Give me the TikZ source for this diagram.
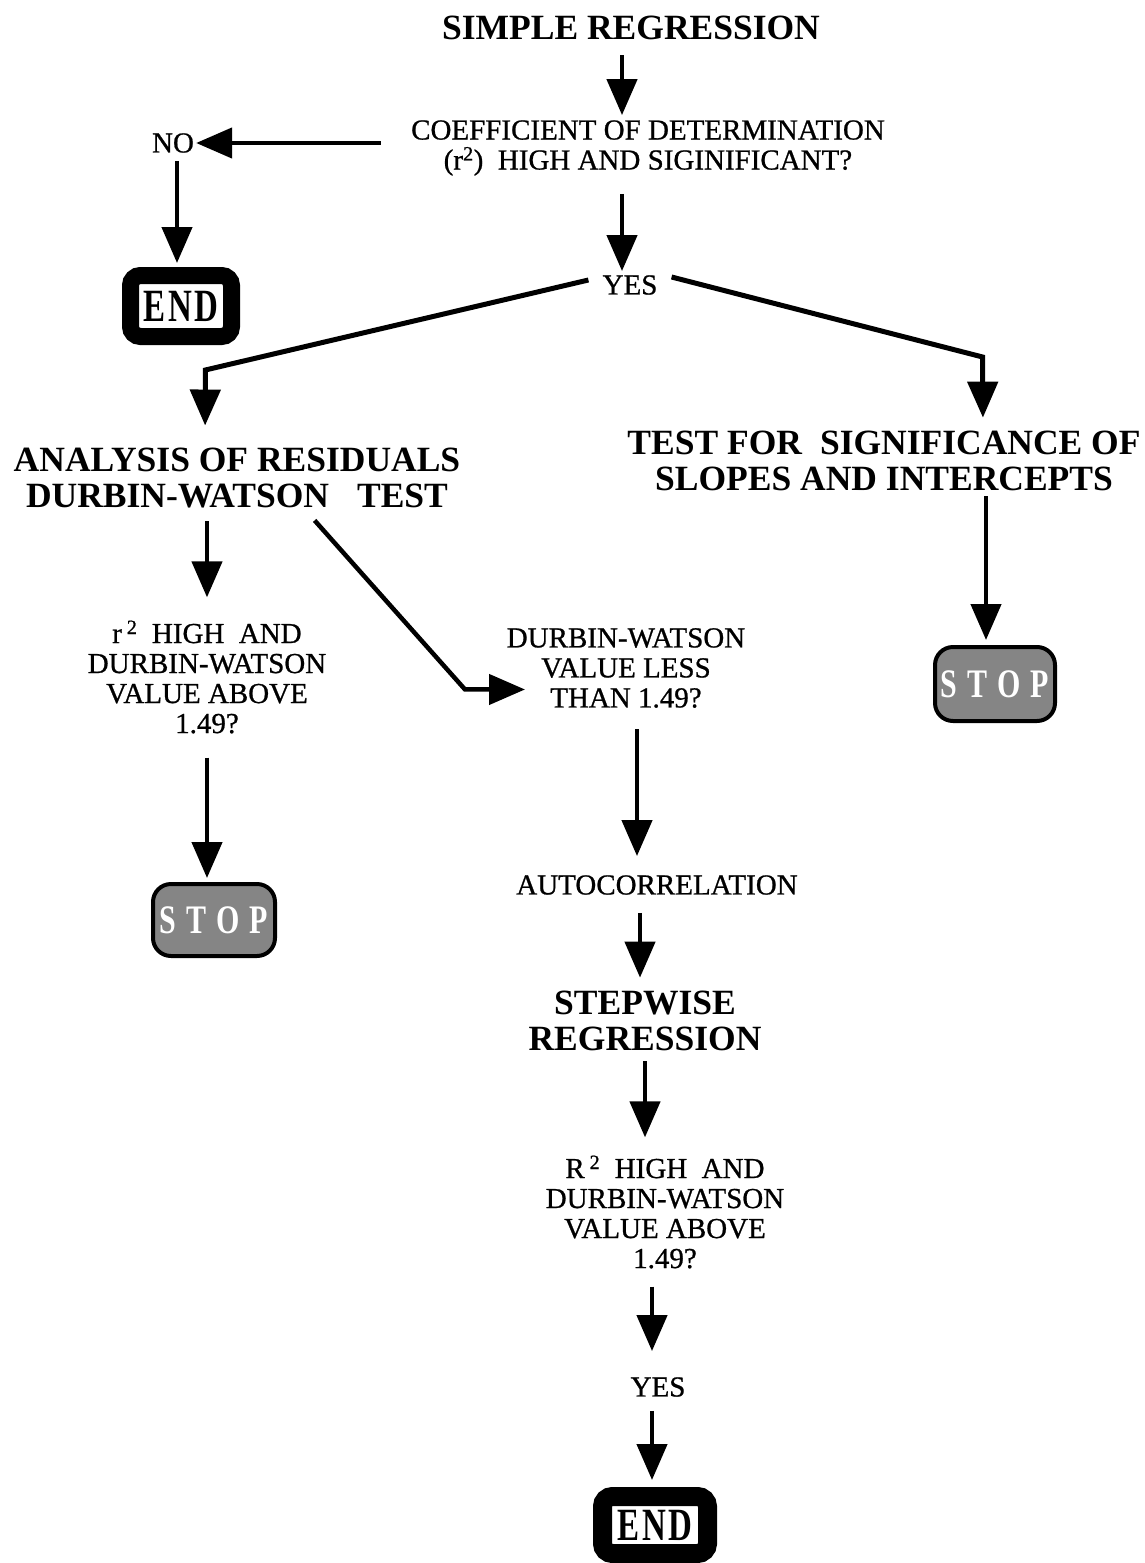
\documentclass[tikz,border=0pt]{standalone}
\usepackage{fontspec}
\setmainfont{Liberation Serif}
\newfontfamily\heavyserif[FakeBold=0.8]{Liberation Serif}
\usepackage{graphicx}
\usetikzlibrary{arrows.meta}
\tikzset{
  bt/.style={font=\fontsize{35.5}{36.5}\selectfont\bfseries, align=center, inner sep=0pt},
  nt/.style={font=\heavyserif\fontsize{29}{30}\selectfont, align=center, inner sep=0pt},
  arr/.style={line width=4.5pt, -{Triangle[length=36pt,width=30pt]}},
  endbox/.style={draw=black, fill=white, line width=17pt, rounded corners=10pt, inner sep=0pt,
    font=\fontsize{33}{33}\selectfont\bfseries},
  stopbox/.style={draw=black, fill=black!48, line width=4pt, rounded corners=18pt, inner sep=0pt,
    minimum width=120pt, minimum height=74pt, text=white, font=\fontsize{30}{30}\selectfont\bfseries}
}
\newcommand{\myendword}{\scalebox{1}[1.4]{E\hspace{3pt}N\hspace{3pt}D}}
\newcommand{\mystopword}{\scalebox{1}[1.35]{S\hspace{10pt}T\hspace{10pt}O\hspace{10pt}P}}
\begin{document}
\begin{tikzpicture}[x=1pt,y=-1pt]
\fill[white] (0,0) rectangle (1145,1563);
\useasboundingbox (0,0) rectangle (1145,1563);

\node[bt] (sr) at (631,28) {SIMPLE REGRESSION};
\node[nt] (cod) at (648,148) {COEFFICIENT OF DETERMINATION\\(r\textsuperscript{2})~ HIGH AND SIGINIFICANT?};
\node[nt] (no) at (173,143) {NO};
\node[endbox, minimum width=101pt, minimum height=61pt] (end1) at (181,306) {\myendword};
\node[nt] (yes1) at (630,285) {YES};
\node[bt] (ana) at (237,478) {ANALYSIS OF RESIDUALS\\DURBIN-WATSON\hspace{28pt}TEST};
\node[bt] (tfs) at (884,461) {TEST FOR\hspace{18pt}SIGNIFICANCE OF\\SLOPES AND INTERCEPTS};
\node[nt] (r2) at (207,677) {r\,\textsuperscript{2}~ HIGH~ AND\\DURBIN-WATSON\\VALUE ABOVE\\1.49?};
\node[nt] (dwl) at (626,668) {DURBIN-WATSON\\VALUE LESS\\THAN 1.49?};
\node[stopbox] (stop1) at (995,684) {\mystopword};
\node[stopbox, minimum width=122pt, minimum height=72pt] (stop2) at (214,920) {\mystopword};
\node[nt] (auto) at (657,885) {AUTOCORRELATION};
\node[bt] (sw) at (645,1021) {STEPWISE\\REGRESSION};
\node[nt] (R2) at (665,1212) {R\,\textsuperscript{2}~ HIGH~ AND\\DURBIN-WATSON\\VALUE ABOVE\\1.49?};
\node[nt] (yes2) at (658,1387) {YES};
\node[endbox, line width=19pt, minimum width=105pt, minimum height=57pt] (end2) at (655,1525) {\myendword};

% connectors
\draw[arr, shorten <=15pt, shorten >=5pt] (sr.south -| 622,0) -- (cod.north -| 622,0);
\draw[arr, shorten <=30pt, shorten >=2pt] (cod.west |- no.east) -- (no.east);
\draw[arr, shorten <=8pt, shorten >=4pt] (no.south -| 177,0) -- (end1.north -| 177,0);
\draw[arr, shorten <=18pt, shorten >=4pt] (cod.south -| 622,0) -- (yes1.north -| 622,0);
\draw[arr, line width=5pt, shorten >=22pt] ([xshift=-14pt,yshift=5pt]yes1.west) -- ++(-383,90) -- (ana.north -| 205,0);
\draw[arr, line width=5pt, shorten >=13pt] ([xshift=14pt,yshift=8pt]yes1.east) -- ++(311,80) -- (tfs.north -| 983,0);
\draw[arr, shorten <=13pt, shorten >=23pt] (ana.south -| 207,0) -- (r2.north -| 207,0);
\draw[arr, shorten <=16pt] (ana.south -| 304,0) -- ++(161,181) -- ++(60,0);
\draw[arr, shorten <=5pt, shorten >=5pt] (tfs.south -| 986,0) -- (stop1.north -| 986,0);
\draw[arr, shorten <=24pt, shorten >=4pt] (r2.south -| 207,0) -- (stop2.north -| 207,0);
\draw[arr, shorten <=21pt, shorten >=19pt] (dwl.south -| 637,0) -- (auto.north -| 637,0);
\draw[arr, shorten <=18pt, shorten >=13pt] (auto.south -| 640,0) -- (sw.north -| 640,0);
\draw[arr, shorten <=10pt, shorten >=18pt] (sw.south -| 645,0) -- (R2.north -| 645,0);
\draw[arr, shorten <=18pt, shorten >=26pt] (R2.south -| 652,0) -- (yes2.north -| 652,0);
\draw[arr, shorten <=14pt, shorten >=7pt] (yes2.south -| 652,0) -- (end2.north -| 652,0);
\end{tikzpicture}
\end{document}
